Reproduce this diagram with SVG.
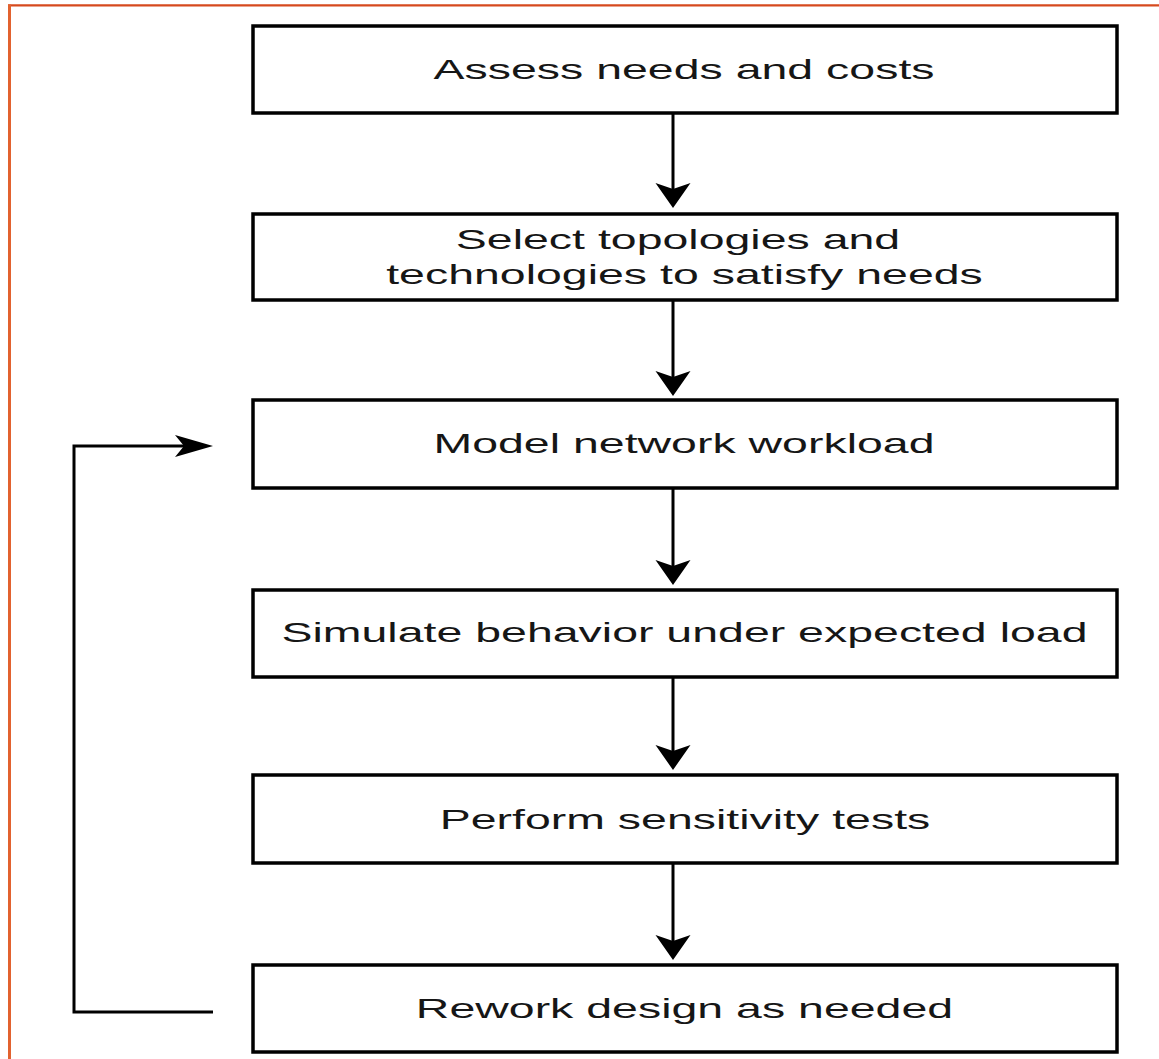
<svg xmlns="http://www.w3.org/2000/svg" width="1159" height="1059" viewBox="0 0 1159 1059">
  <style>
    .box { fill: #ffffff; stroke: #000000; stroke-width: 3.5; }
    .lbl { font-family: "Liberation Sans", Arial, sans-serif; font-size: 28px; fill: #161616; text-anchor: middle; }
    .conn { fill: none; stroke: #000000; stroke-width: 3; }
  </style>
  <defs>
    <marker id="arrowV" markerUnits="userSpaceOnUse" viewBox="0 -18 26 36" refX="7" refY="0" markerWidth="26" markerHeight="36" orient="auto">
      <path d="M0,-17.5 L25,0 L0,17.5 L6,0 Z" fill="#000000"/>
    </marker>
    <marker id="arrowH" markerUnits="userSpaceOnUse" viewBox="0 -12 39 24" refX="10" refY="0" markerWidth="39" markerHeight="24" orient="auto">
      <path d="M0,-11 L38,0 L0,11 L9,0 Z" fill="#000000"/>
    </marker>
  </defs>
  <rect width="1159" height="1059" fill="#ffffff"/>
  <g id="frame">
    <line x1="8" y1="5.3" x2="1159" y2="5.3" stroke="#D64A1E" stroke-width="2.2"/>
    <line x1="9.5" y1="4.5" x2="9.5" y2="1059" stroke="#E2622F" stroke-width="3"/>
  </g>
  <g id="connectors">
    <line class="conn" x1="673" y1="113" x2="673" y2="190" marker-end="url(#arrowV)"/>
    <line class="conn" x1="673" y1="300" x2="673" y2="378" marker-end="url(#arrowV)"/>
    <line class="conn" x1="673" y1="488" x2="673" y2="567" marker-end="url(#arrowV)"/>
    <line class="conn" x1="673" y1="677" x2="673" y2="752" marker-end="url(#arrowV)"/>
    <line class="conn" x1="673" y1="863" x2="673" y2="942" marker-end="url(#arrowV)"/>
    <path class="conn" d="M213,1012 L74,1012 L74,446 L185,446" stroke-width="2.8" marker-end="url(#arrowH)"/>
  </g>
  <g id="node-assess">
    <rect class="box" x="253" y="26" width="864" height="87"/>
    <text class="lbl" transform="translate(684,79) scale(1.66,1)">Assess needs and costs</text>
  </g>
  <g id="node-select">
    <rect class="box" x="253" y="214" width="864" height="86"/>
    <text class="lbl" transform="translate(678,249) scale(1.66,1)">Select topologies and</text>
    <text class="lbl" transform="translate(684.5,284) scale(1.66,1)">technologies to satisfy needs</text>
  </g>
  <g id="node-model">
    <rect class="box" x="253" y="400" width="864" height="88"/>
    <text class="lbl" transform="translate(684,453) scale(1.66,1)">Model network workload</text>
  </g>
  <g id="node-simulate">
    <rect class="box" x="253" y="590" width="864" height="87"/>
    <text class="lbl" transform="translate(684.5,642) scale(1.66,1)">Simulate behavior under expected load</text>
  </g>
  <g id="node-perform">
    <rect class="box" x="253" y="775" width="864" height="88"/>
    <text class="lbl" transform="translate(685,829) scale(1.66,1)">Perform sensitivity tests</text>
  </g>
  <g id="node-rework">
    <rect class="box" x="253" y="965" width="864" height="87"/>
    <text class="lbl" transform="translate(684.5,1018) scale(1.66,1)">Rework design as needed</text>
  </g>
</svg>
